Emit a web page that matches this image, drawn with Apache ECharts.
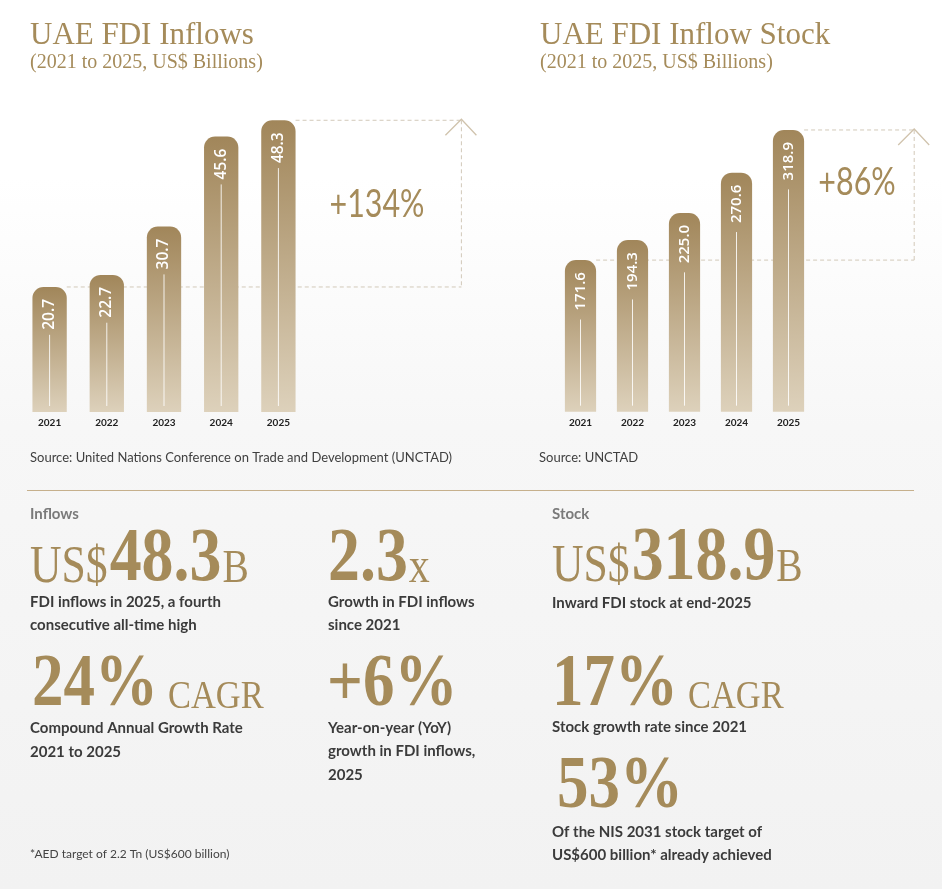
<!DOCTYPE html>
<html><head><meta charset="utf-8">
<script src="https://cdn.jsdelivr.net/npm/echarts@6/dist/echarts.min.js"></script>
<style>
html,body{margin:0;padding:0;background:#fff;}
#c{width:942px;height:889px;background:linear-gradient(to bottom,#ffffff 0%,#ffffff 20%,#f7f7f7 48%,#f2f2f2 100%);}
</style>
</head><body><div id="c"></div>
<script>
// ---------- data ----------
const years = ['2021', '2022', '2023', '2024', '2025'];
const inflows = [20.7, 22.7, 30.7, 45.6, 48.3];
const stock = [171.6, 194.3, 225.0, 270.6, 318.9];
const inflowGrowth = '+134%';
const stockGrowth = '+86%';
const title1 = 'UAE FDI Inflows';
const title2 = 'UAE FDI Inflow Stock';
const subtitle = '(2021 to 2025, US$ Billions)';
const source1 = 'Source: United Nations Conference on Trade and Development (UNCTAD)';
const source2 = 'Source: UNCTAD';
const footnote = '*AED target of 2.2 Tn (US$600 billion)';

// ---------- style ----------
const GOLD = '#a58b5a';
const SERIF = '"Liberation Serif","Times New Roman",serif';
const SANS = 'Lato,"Open Sans",sans-serif';
const DARK = '#3b3b3b';
const SX = 0.84;
const MID = 0.32;

const ctx = document.createElement('canvas').getContext('2d');
function tw(text, font) { ctx.font = font; return ctx.measureText(text).width; }

function T(x, y, text, font, fill, extra, align) {
  const a = align || 'left';
  return Object.assign({
    type: 'text', x: x, y: y, silent: true,
    style: { text: text, font: font, fill: fill, textAlign: a, align: a,
             textVerticalAlign: 'middle', verticalAlign: 'middle' }
  }, extra || {});
}

// pieces: [text, size, gapBefore, bold]
function serifRun(x, baseline, pieces) {
  const els = []; let cx = x;
  pieces.forEach(function (p) {
    const t = p[0], s = p[1], gap = p[2] || 0, w = p[3] ? 'bold ' : '';
    cx += gap;
    const font = w + s + 'px ' + SERIF;
    els.push(T(cx, baseline - MID * s, t, font, GOLD, { scaleX: SX }));
    cx += tw(t, font) * SX;
  });
  return els;
}
function lines(x, y0, arr, lh) {
  return arr.map(function (t, k) { return T(x, y0 + k * lh, t, 'bold 15px ' + SANS, DARK); });
}

const bottomTexts = [].concat(
  [T(30, 514, 'Inflows', 'bold 15px ' + SANS, '#7a7a7a'), T(552, 514, 'Stock', 'bold 15px ' + SANS, '#7a7a7a')],
  serifRun(30, 585, [['US$', 52], ['48.3', 76, 2, true], ['B', 47, 1]]),
  lines(30, 602, ['FDI inflows in 2025, a fourth', 'consecutive all-time high'], 23.5),
  serifRun(328, 585, [['2.3', 76, 0, true], ['x', 50, 1]]),
  lines(328, 602, ['Growth in FDI inflows', 'since 2021'], 23.5),
  serifRun(32, 710, [['24%', 75, 0, true], ['CAGR', 41, 10]]),
  lines(30, 728, ['Compound Annual Growth Rate', '2021 to 2025'], 24),
  serifRun(327, 710, [['+6%', 75, 0, true]]),
  lines(328, 728, ['Year-on-year (YoY)', 'growth in FDI inflows,', '2025'], 23.5),
  serifRun(552, 584, [['US$', 52], ['318.9', 76, 2, true], ['B', 47, 1]]),
  lines(552, 603, ['Inward FDI stock at end-2025'], 23.5),
  serifRun(552, 710, [['17%', 75, 0, true], ['CAGR', 41, 10]]),
  lines(552, 727, ['Stock growth rate since 2021'], 23.5),
  serifRun(557, 812, [['53%', 75, 0, true]]),
  lines(552, 832, ['Of the NIS 2031 stock target of', 'US$600 billion* already achieved'], 23),
  [T(30, 854, footnote, '12px ' + SANS, '#444')]
);

const topTexts = [
  T(30, 46 - MID * 31, title1, '31px ' + SERIF, GOLD),
  T(30, 69 - MID * 20, subtitle, '20px ' + SERIF, GOLD),
  T(540, 46 - MID * 31, title2, '31px ' + SERIF, GOLD),
  T(540, 69 - MID * 20, subtitle, '20px ' + SERIF, GOLD),
  T(377, 204, inflowGrowth, '39px ' + SANS, GOLD, { scaleX: 0.78, originX: 0 }, 'center'),
  T(857, 182, stockGrowth, '39px ' + SANS, GOLD, { scaleX: 0.78, originX: 0 }, 'center'),
  T(30, 458, source1, '13px ' + SANS, '#404040'),
  T(539, 458, source2, '13px ' + SANS, '#404040'),
  { type: 'line', silent: true, shape: { x1: 27, y1: 490.5, x2: 914, y2: 490.5 }, style: { stroke: '#c6b08c', lineWidth: 1.2 } }
];

// ---------- series helpers ----------
const barGradient = new echarts.graphic.LinearGradient(0, 0, 0, 1, [
  { offset: 0, color: '#a1865a' }, { offset: 1, color: '#ddd1bb' }
]);

function innerRender(fontSize, gap) {
  return function (params, api) {
    const v = api.value(1);
    const top = api.coord([api.value(0), v]);
    const bot = api.coord([api.value(0), 0]);
    const label = v.toFixed(1);
    const font = '600 ' + fontSize + 'px "Open Sans",Lato,sans-serif';
    const w = tw(label, font);
    const ty = top[1] + 12;
    return {
      type: 'group', children: [
        { type: 'text', x: top[0], y: ty, rotation: Math.PI / 2,
          style: { text: label, font: font, fill: '#ffffff', textAlign: 'right', align: 'right',
                   textVerticalAlign: 'middle', verticalAlign: 'middle' } },
        { type: 'line', shape: { x1: top[0], y1: ty + w + gap, x2: top[0], y2: bot[1] - 6 },
          style: { stroke: 'rgba(255,255,255,0.85)', lineWidth: 1 } }
      ]
    };
  };
}

function guideRender(xOffset) {
  return function (params, api) {
    const a = api.coord([api.value(0), api.value(1)]);
    const b = api.coord([api.value(2), api.value(3)]);
    const half = api.size([1, 0])[0] * 0.3;
    const xa = b[0] + xOffset;
    const ls = { stroke: '#d2c9b9', lineWidth: 1, lineDash: [4, 3], fill: null };
    return {
      type: 'group', children: [
        { type: 'line', shape: { x1: a[0] + half, y1: a[1], x2: xa, y2: a[1] }, style: ls },
        { type: 'line', shape: { x1: b[0] + half, y1: b[1], x2: xa, y2: b[1] }, style: ls },
        { type: 'line', shape: { x1: xa, y1: b[1], x2: xa, y2: a[1] }, style: ls },
        { type: 'polyline', shape: { points: [[xa - 16, b[1] + 15], [xa, b[1] - 1], [xa + 15, b[1] + 15]] },
          style: { stroke: '#d0c3ad', lineWidth: 1.3, fill: null } }
      ]
    };
  };
}

function xAxisFor(g) {
  return {
    gridIndex: g, type: 'category', data: years,
    axisLine: { show: false }, axisTick: { show: false }, splitLine: { show: false },
    axisLabel: { margin: 6, color: '#222', fontWeight: 'bold', fontSize: 10, fontFamily: 'Lato' }
  };
}

function seriesFor(g, values, labelSize, gap, xOffset) {
  const last = values.length - 1;
  return [
    { type: 'custom', xAxisIndex: g, yAxisIndex: g, z: 1, silent: true, clip: false,
      data: [[0, values[0], last, values[last]]], renderItem: guideRender(xOffset) },
    { type: 'bar', xAxisIndex: g, yAxisIndex: g, z: 2, barWidth: '60%', silent: true,
      itemStyle: { color: barGradient, borderRadius: [11, 11, 0, 0] },
      data: values },
    { type: 'custom', xAxisIndex: g, yAxisIndex: g, z: 3, silent: true, clip: false,
      data: values.map(function (v, i) { return [i, v]; }), renderItem: innerRender(labelSize, gap) }
  ];
}

const chart = echarts.init(document.getElementById('c'));
chart.setOption({
  animation: false,
  grid: [
    { left: 21, top: 110, width: 286, height: 302 },
    { left: 554.5, top: 102.5, width: 260, height: 309.2 }
  ],
  xAxis: [xAxisFor(0), xAxisFor(1)],
  yAxis: [
    { gridIndex: 0, type: 'value', min: 0, max: 50, show: false },
    { gridIndex: 1, type: 'value', min: 0, max: 350, show: false }
  ],
  series: [].concat(seriesFor(0, inflows, 15.5, 5, 183), seriesFor(1, stock, 15, 9, 125.7)),
  graphic: { elements: topTexts.concat(bottomTexts) }
});
</script>
</body></html>
